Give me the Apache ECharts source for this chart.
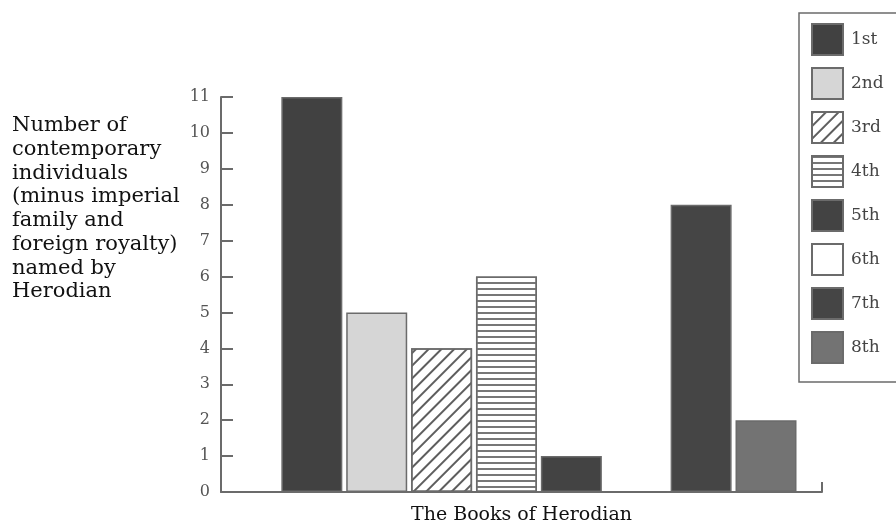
<!DOCTYPE html>
<html>
<head>
<meta charset="utf-8">
<script src="https://cdn.jsdelivr.net/npm/echarts@6/dist/echarts.min.js"></script>
<style>
html,body{margin:0;padding:0;background:#fff;}
#chart{width:896px;height:527px;}
</style>
</head>
<body>
<div id="chart"></div>
<script>
// ---- data ----
const books = ['1st', '2nd', '3rd', '4th', '5th', '6th', '7th', '8th'];
const bookNumbers = [1, 2, 3, 4, 5, 6, 7, 8];
const counts = [11, 5, 4, 6, 1, 0, 8, 2];
const yTicks = [0, 1, 2, 3, 4, 5, 6, 7, 8, 9, 10, 11];
const yTitle = ['Number of', 'contemporary', 'individuals', '(minus imperial', 'family and', 'foreign royalty)', 'named by', 'Herodian'];
const xTitle = 'The Books of Herodian';

// ---- styles ----
const serif = 'DejaVu Serif';
const edge = '#6b6b6b';
const fills = ['#414141', '#d6d6d6', '#ffffff', '#ffffff', '#434343', '#ffffff', '#454545', '#737373'];
const decals = [
  null, null,
  { symbol: 'rect', symbolSize: 1, dashArrayX: [1, 0], dashArrayY: [1.6, 6.4], rotation: -Math.PI / 4, color: '#5e5e5e' },
  { symbol: 'rect', symbolSize: 1, dashArrayX: [1, 0], dashArrayY: [2, 4], rotation: 0, color: '#777777' },
  null, null, null, null
];

const chart = echarts.init(document.getElementById('chart'), null, { renderer: 'canvas' });

const series = books.map((b, i) => {
  const style = { color: fills[i], borderColor: edge, borderWidth: 1.5 };
  if (decals[i]) style.decal = decals[i];
  return {
    name: b,
    type: 'bar',
    xAxisIndex: 0,
    yAxisIndex: 0,
    barWidth: 61,
    barGap: '-100%',
    data: [[bookNumbers[i], counts[i]]],
    itemStyle: style,
    emphasis: { disabled: true },
    animation: false
  };
});

chart.setOption({
  animation: false,
  backgroundColor: '#ffffff',
  title: {
    text: yTitle.join('\n'),
    left: 12,
    top: 114,
    padding: 0,
    textStyle: { fontFamily: serif, fontSize: 21, fontWeight: 'normal', color: '#111', lineHeight: 23.7 }
  },
  legend: {
    orient: 'vertical',
    left: 799,
    top: 13,
    padding: [10, 60, 18, 12],
    itemWidth: 31,
    itemHeight: 31,
    itemGap: 11,
    icon: 'rect',
    borderColor: '#6b6b6b',
    borderWidth: 1.5,
    selectedMode: false,
    textStyle: { fontFamily: serif, fontSize: 17, color: '#444', padding: [0, 0, 0, 3] },
    data: books
  },
  grid: { left: 221, right: 74, top: 97, bottom: 35, containLabel: false, outerBoundsMode: 'none' },
  xAxis: [
    {
      type: 'value',
      min: -0.4,
      max: 8.863,
      axisLine: { show: true, onZero: false, lineStyle: { color: edge, width: 2 } },
      axisTick: { show: false },
      axisLabel: { show: false },
      splitLine: { show: false },
      name: xTitle,
      nameLocation: 'middle',
      nameGap: 14,
      nameTextStyle: { fontFamily: serif, fontSize: 19, color: '#111' }
    },
    {
      type: 'value',
      position: 'bottom',
      min: 0,
      max: 1,
      interval: 1,
      axisLine: { show: false, onZero: false },
      axisTick: { show: true, inside: true, length: 10, lineStyle: { color: edge, width: 2 } },
      axisLabel: { show: false },
      splitLine: { show: false }
    }
  ],
  yAxis: {
    type: 'value',
    min: yTicks[0],
    max: yTicks[yTicks.length - 1],
    interval: 1,
    axisLine: { show: true, onZero: false, lineStyle: { color: edge, width: 2 } },
    axisTick: { show: true, inside: true, length: 12, lineStyle: { color: edge, width: 2 } },
    axisLabel: { fontFamily: serif, fontSize: 16, color: '#555', margin: 11 },
    splitLine: { show: false }
  },
  series: series
});
</script>
</body>
</html>
